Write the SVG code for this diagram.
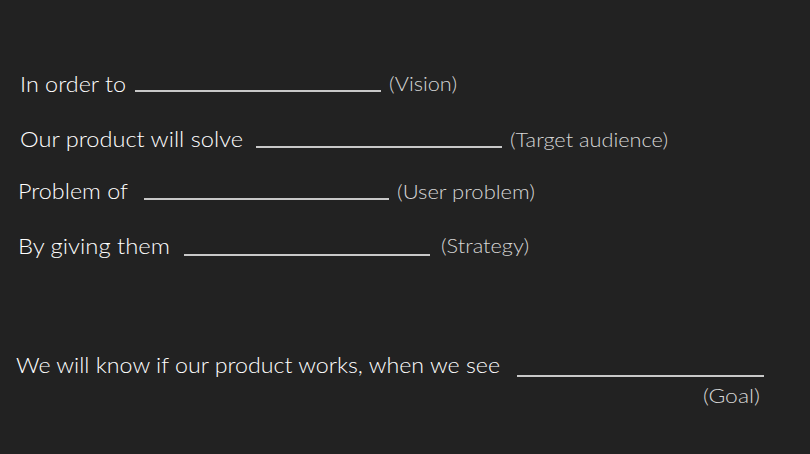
<svg xmlns="http://www.w3.org/2000/svg" width="810" height="454" viewBox="0 0 810 454">
<style>
.t{font-family:Lato,"Noto Sans",sans-serif;font-weight:300;font-size:21px;fill:#ffffff}
.l{font-family:Lato,"Noto Sans",sans-serif;font-weight:300;font-size:19px;fill:#d6d6d6}
.b{stroke:#c8c8c8;stroke-width:2.2;fill:none}
</style>
<rect width="810" height="454" fill="#222222"/>
<g id="row-vision">
<text class="t" x="20" y="92" textLength="106" lengthAdjust="spacingAndGlyphs">In order to</text>
<line class="b" x1="135" y1="91" x2="381" y2="91"/>
<text class="l" x="389" y="91" textLength="68" lengthAdjust="spacingAndGlyphs">(Vision)</text>
</g>
<g id="row-audience">
<text class="t" x="20" y="147" textLength="223" lengthAdjust="spacingAndGlyphs">Our product will solve</text>
<line class="b" x1="256" y1="147" x2="502" y2="147"/>
<text class="l" x="510" y="147" textLength="158" lengthAdjust="spacingAndGlyphs">(Target audience)</text>
</g>
<g id="row-problem">
<text class="t" x="18" y="199" textLength="110" lengthAdjust="spacingAndGlyphs">Problem of</text>
<line class="b" x1="144" y1="199" x2="389" y2="199"/>
<text class="l" x="397" y="199" textLength="138" lengthAdjust="spacingAndGlyphs">(User problem)</text>
</g>
<g id="row-strategy">
<text class="t" x="18" y="254" textLength="152" lengthAdjust="spacingAndGlyphs">By giving them</text>
<line class="b" x1="184" y1="255" x2="430" y2="255"/>
<text class="l" x="441" y="253" textLength="88" lengthAdjust="spacingAndGlyphs">(Strategy)</text>
</g>
<g id="row-goal">
<text class="t" x="16" y="373" textLength="484" lengthAdjust="spacingAndGlyphs">We will know if our product works, when we see</text>
<line class="b" x1="517" y1="376" x2="764" y2="376"/>
<text class="l" x="703" y="403" textLength="57" lengthAdjust="spacingAndGlyphs">(Goal)</text>
</g>
</svg>
